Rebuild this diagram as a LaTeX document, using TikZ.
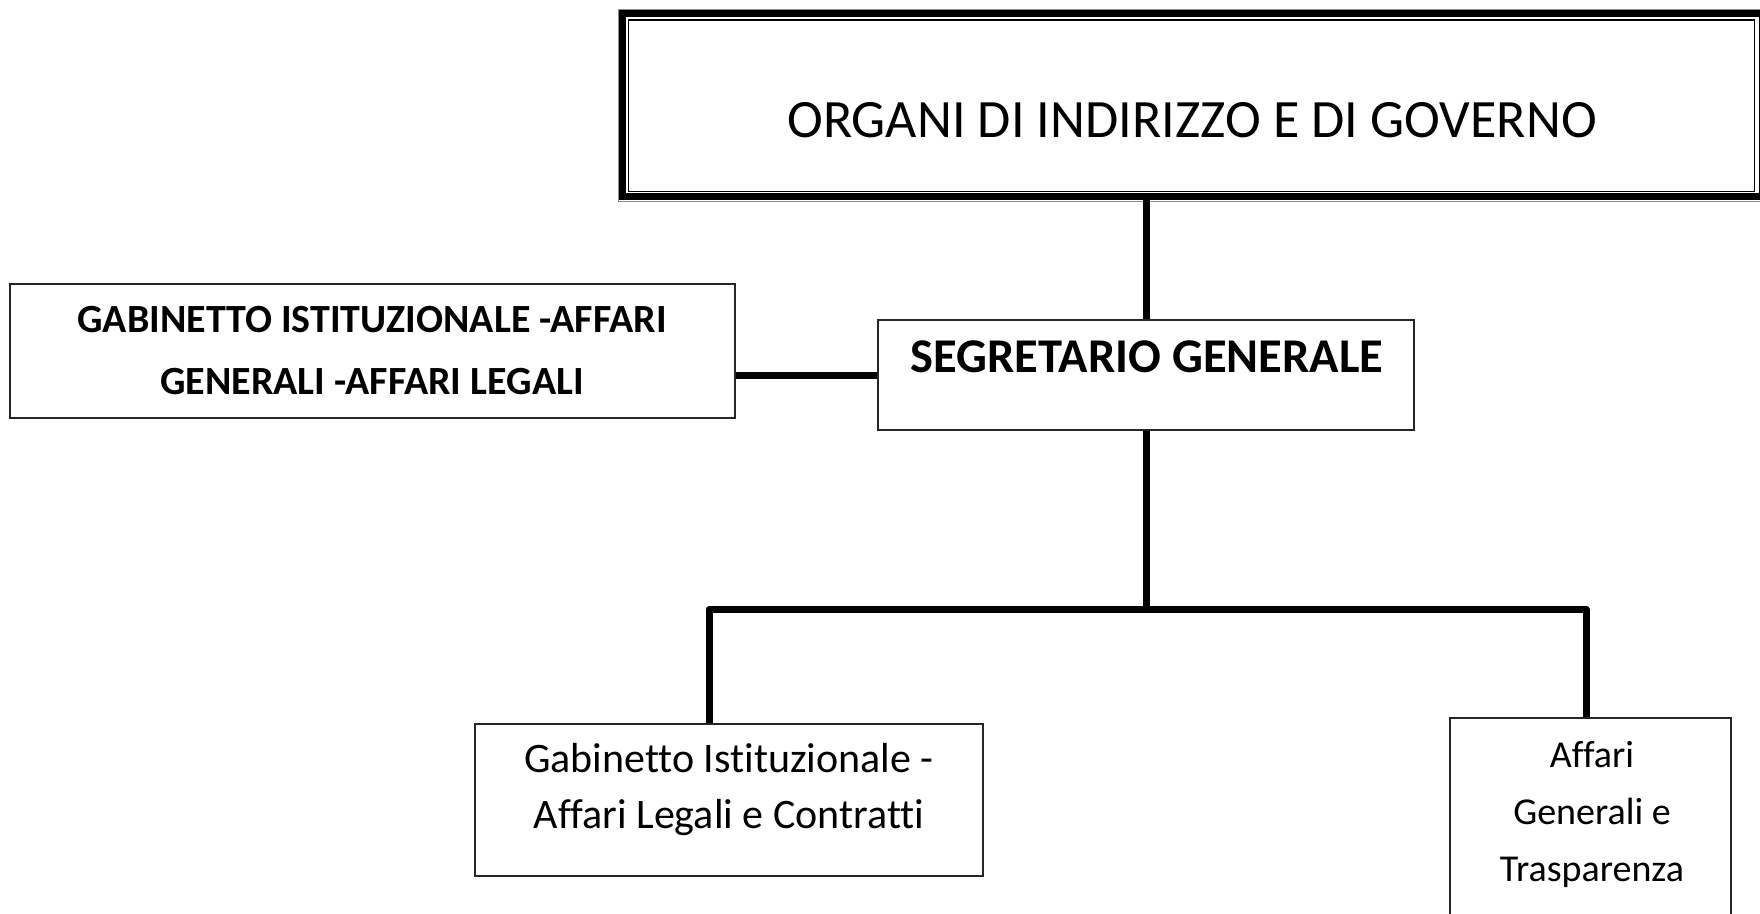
\documentclass[tikz,border=0pt]{standalone}
\usepackage{fontspec}
\setmainfont{Carlito}[Ligatures=NoCommon]
\usetikzlibrary{fit}
\begin{document}
\begin{tikzpicture}[x=1pt,y=-1pt,
  box/.style={draw=black!85, line width=1.6pt, inner sep=0pt, fill=none},
  conn/.style={draw=black, line width=7pt, line join=round},
  lbl/.style={inner sep=0pt, align=center, text=black}]
\useasboundingbox (0,0) rectangle (1760,913);
% top box with thick-thin frame
\node[inner sep=0pt, fit={(618,10) (1760,200)}] (top) {};
\draw[line width=7.5pt] (621.75,13.5) rectangle (1763,196.5);
\draw[line width=1.4pt] (628.5,20) rectangle (1754.5,191.5);
\draw[line width=0.8pt, black!45] (618,9.5) rectangle (1770,201.5);
\node[lbl, font=\fontsize{54}{60}\selectfont] (ttop) at (1192,120) {ORGANI DI INDIRIZZO E DI GOVERNO};
% segretario
\node[box, fit={(878,320) (1414,430)}] (sg) {};
\node[lbl, font=\bfseries\fontsize{48.5}{52}\selectfont] (tsg) at (1147,357) {SEGRETARIO GENERALE};
% gabinetto top-left
\node[box, fit={(10,284) (735,418)}] (gab) {};
\node[lbl, font=\bfseries\fontsize{40}{62}\selectfont] (tgab) at (372,351) {GABINETTO ISTITUZIONALE -AFFARI\\GENERALI -AFFARI LEGALI};
% bottom left
\node[box, fit={(475,724) (983,876)}] (gl) {};
\node[lbl, font=\fontsize{42}{56}\selectfont] (tgl) at (729,790) {Gabinetto Istituzionale -\\Affari Legali e Contratti};
% bottom right
\node[box, fit={(1450,718) (1731,930)}] (gr) {};
\node[lbl, font=\fontsize{38}{57}\selectfont] (tgr) at (1592,814) {Affari\\Generali e\\Trasparenza};
% connectors
\coordinate (jl) at (709,609);
\coordinate (jr) at (1586,609);
\draw[conn] (sg.north) -- (sg.north |- top.south);
\draw[conn] (sg.west) -- (sg.west -| gab.east);
\draw[conn] (sg.south) -- (sg.south |- jl);
\draw[conn] (gl.north -| jl) -- (jl) -- (jr) -- (jr |- gr.north);
\end{tikzpicture}
\end{document}
